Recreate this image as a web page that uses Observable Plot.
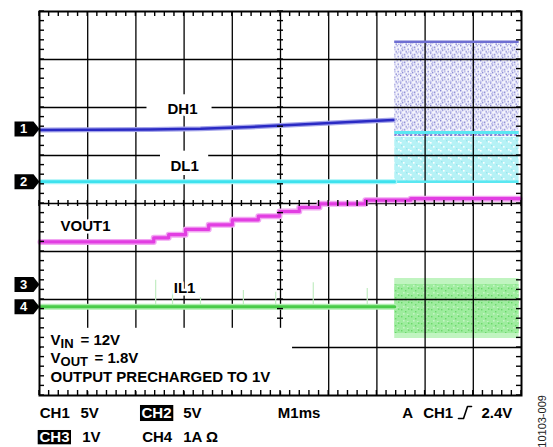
<!DOCTYPE html>
<html>
<head>
<meta charset="utf-8">
<script src="https://cdn.jsdelivr.net/npm/d3@7"></script>
<script src="https://cdn.jsdelivr.net/npm/@observablehq/plot@0.6"></script>
<style>
  html, body { margin: 0; padding: 0; background: #fff; }
</style>
</head>
<body>
<div id="chart"></div>
<script>
// ---- Channel setup (scope settings) ----
const channels = ["1", "2", "3", "4"];
const channelNames = ["DH1", "DL1", "VOUT1", "IL1"];
const channelGroundDiv = [1.55, 0.455, -1.69, -2.15];   // ground marker level, divisions
const channelPerDiv = [5, 5, 1, 1];                      // V/div, V/div, V/div, A/div

// ---- Grid (divisions) ----
const divX = [1, 2, 3, 4, 5, 6, 7, 8, 9];
const divY = [-3, -2, -1, 0, 1, 2, 3];
const minorX = d3.range(0, 10.001, 0.2);
const minorY = d3.range(-4, 4.001, 0.2);

// ---- Traces (time in ms, 1 ms/div) ----
const dh1T = [0.02, 2.30, 3.34, 4.38, 5.41, 6.45, 7.34];
const dh1V = [-0.10, -0.04, 0.03, 0.22, 0.48, 0.74, 0.95];

const dl1T = [0.02, 7.37];
const dl1V = [0, 0];

const vout1T = [0.02, 2.37, 2.68, 3.03, 3.51, 4.00, 4.54, 4.98, 5.39, 5.81, 6.76, 7.70, 9.96];
const vout1V = [0.89, 0.975, 1.04, 1.15, 1.245, 1.35, 1.425, 1.523, 1.607, 1.684, 1.76, 1.79, 1.79];

const il1T = [0.02, 7.37];
const il1A = [0, 0];
const il1SpikeT = [2.41, 2.76, 3.34, 4.23, 4.90, 5.68, 6.80];
const il1SpikeA = [0.55, 0.34, 0.19, 0.34, 0.30, 0.50, 0.38];

// ---- Switching region ----
const swT = [7.37, 9.95];
const dh1SwV = [-0.77, 9.1];        // low, high
const dl1SwV = [0, 5.12];
const il1SwOuterA = [-0.66, 0.59];
const il1SwInnerA = [-0.56, 0.46];

// ---- Text ----
const bottomRow1 = [
  {t: 0.006, s: "CH1"}, {t: 0.85, s: "5V"}, {t: 2.98, s: "5V"},
  {t: 4.944, s: "M1ms"}, {t: 7.525, s: "A"}, {t: 7.96, s: "CH1"}, {t: 9.17, s: "2.4V"}
];
const bottomRow2 = [
  {t: 0.886, s: "1V"}, {t: 2.13, s: "CH4"}, {t: 2.98, s: "1A Ω"}
];
const invertedLabels = [
  {s: "CH2", t: 2.116, d: -4.375, box: [2.095, 2.786, -4.208, -4.542]},
  {s: "CH3", t: 0.0, d: -4.875, box: [-0.027, 0.664, -4.729, -5.027]}
];
const traceLabels = [
  {s: "DH1", t: 2.967, d: 1.965},
  {s: "DL1", t: 3.01, d: 0.77},
  {s: "VOUT1", t: 0.954, d: -0.465},
  {s: "IL1", t: 3.01, d: -1.76}
];
const gapBoxes = [
  [2.23, 3.58, 1.833, 2.265],
  [2.51, 3.51, 0.583, 1.09],
  [0.04, 5.25, -3.92, -2.6]
];
const triggerGlyph = [[8.693, -4.479], [8.797, -4.479], [8.880, -4.229], [8.963, -4.229]];

const toDiv = (ch, v) => channelGroundDiv[ch] + v / channelPerDiv[ch];
const idx = arr => arr.map((_, i) => i);
const FONT = "Liberation Sans, Arial, Helvetica, sans-serif";
const GRID = "#000";
const TW = 1.4; // tick stroke width

const markerSymbol = {
  draw(ctx) {
    ctx.moveTo(-13, -7.5);
    ctx.lineTo(6, -7.5);
    ctx.lineTo(12, 0);
    ctx.lineTo(6, 7.5);
    ctx.lineTo(-13, 7.5);
    ctx.closePath();
  }
};

const chart = Plot.plot({
  width: 553,
  height: 447,
  marginLeft: 39,
  marginRight: 32,
  marginTop: 11,
  marginBottom: 52,
  x: {domain: [0, 10], axis: null},
  y: {domain: [-4, 4], axis: null},
  style: {fontFamily: FONT, background: "#fff", overflow: "visible"},
  marks: [
    // switching bands
    Plot.areaY(swT, {x: d => d, y1: toDiv(0, dh1SwV[0]), y2: toDiv(0, dh1SwV[1]), fill: "url(#dh1Speckle)"}),
    Plot.areaY(swT, {x: d => d, y1: toDiv(1, dl1SwV[0]), y2: toDiv(1, dl1SwV[1]) - 0.1, fill: "url(#dl1Speckle)"}),
    Plot.areaY(swT, {x: d => d, y1: toDiv(3, il1SwOuterA[0]), y2: toDiv(3, il1SwOuterA[1]), fill: "#c0f4c0"}),
    Plot.areaY(swT, {x: d => d, y1: toDiv(3, il1SwInnerA[0]), y2: toDiv(3, il1SwInnerA[1]), fill: "url(#il1Speckle)"}),

    // grid
    Plot.ruleX(divX, {x: d => d, stroke: GRID, strokeWidth: 1.3}),
    Plot.ruleY(divY, {y: d => d, stroke: GRID, strokeWidth: 1.3}),
    // blank areas behind labels
    Plot.rect(gapBoxes, {x1: d => d[0], x2: d => d[1], y1: d => d[2], y2: d => d[3], fill: "#fff"}),

    // switching level lines
    Plot.ruleY([toDiv(0, dh1SwV[1])], {x1: swT[0], x2: swT[1], y: d => d, stroke: "#6e6ed2", strokeWidth: 2.5}),
    Plot.ruleY([toDiv(0, dh1SwV[0]) + 0.03], {x1: swT[0], x2: swT[1], y: d => d, stroke: "#6a6ad0", strokeWidth: 1.5, strokeDasharray: "2,2"}),
    Plot.ruleY([toDiv(1, dl1SwV[1])], {x1: swT[0], x2: swT[1], y: d => d, stroke: "#5ae8f2", strokeWidth: 3}),
    Plot.ruleY([toDiv(1, dl1SwV[0])], {x1: swT[0], x2: swT[1], y: d => d, stroke: "#5ae8f2", strokeWidth: 2.5}),

    // IL1 faint spikes
    Plot.ruleX(idx(il1SpikeT), {x: i => il1SpikeT[i], y1: toDiv(3, 0), y2: i => toDiv(3, il1SpikeA[i]), stroke: "#c2ecc2", strokeWidth: 1.2}),
    // IL1
    Plot.line(idx(il1T), {x: i => il1T[i], y: i => toDiv(3, il1A[i]), stroke: "#b0eeb0", strokeWidth: 6}),
    Plot.line(idx(il1T), {x: i => il1T[i], y: i => toDiv(3, il1A[i]), stroke: "#48cc48", strokeWidth: 3}),
    // DL1
    Plot.line(idx(dl1T), {x: i => dl1T[i], y: i => toDiv(1, dl1V[i]), stroke: "#a8f4f8", strokeWidth: 5}),
    Plot.line(idx(dl1T), {x: i => dl1T[i], y: i => toDiv(1, dl1V[i]), stroke: "#3ee2ee", strokeWidth: 2.6}),
    // DH1
    Plot.line(idx(dh1T), {x: i => dh1T[i], y: i => toDiv(0, dh1V[i]), stroke: "#a4a4ea", strokeWidth: 5}),
    Plot.line(idx(dh1T), {x: i => dh1T[i], y: i => toDiv(0, dh1V[i]), stroke: "#2a2ac4", strokeWidth: 2.6}),
    // VOUT1
    Plot.line(idx(vout1T), {x: i => vout1T[i], y: i => toDiv(2, vout1V[i]), curve: "step-after", stroke: "#f2a6f2", strokeWidth: 6}),
    Plot.line(idx(vout1T), {x: i => vout1T[i], y: i => toDiv(2, vout1V[i]), curve: "step-after", stroke: "#e23ee2", strokeWidth: 3.2}),

    // frame
    Plot.frame({stroke: "#000", strokeWidth: 2}),

    // trace labels
    Plot.text(traceLabels, {x: "t", y: "d", text: "s", fontSize: 15, fontWeight: "bold", fill: "#000",
      stroke: "#fff", strokeWidth: 5, paintOrder: "stroke"}),

    // text box
    Plot.text(["V"], {x: () => 0.228, y: () => -2.844, text: d => d, textAnchor: "start", fontSize: 15, fontWeight: "bold"}),
    Plot.text(["IN"], {x: () => 0.436, y: () => -2.925, text: d => d, textAnchor: "start", fontSize: 13, fontWeight: "bold"}),
    Plot.text(["= 12V"], {x: () => 0.85, y: () => -2.844, text: d => d, textAnchor: "start", fontSize: 15, fontWeight: "bold"}),
    Plot.text(["V"], {x: () => 0.228, y: () => -3.229, text: d => d, textAnchor: "start", fontSize: 15, fontWeight: "bold"}),
    Plot.text(["OUT"], {x: () => 0.436, y: () => -3.30, text: d => d, textAnchor: "start", fontSize: 13, fontWeight: "bold"}),
    Plot.text(["= 1.8V"], {x: () => 1.141, y: () => -3.229, text: d => d, textAnchor: "start", fontSize: 15, fontWeight: "bold"}),
    Plot.text(["OUTPUT PRECHARGED TO 1V"], {x: () => 0.228, y: () => -3.625, text: d => d, textAnchor: "start", fontSize: 15, fontWeight: "bold"}),

    // channel markers
    Plot.dot(channels, {x: () => 0, y: (c, i) => channelGroundDiv[i], symbol: markerSymbol, r: 5, fill: "#000", stroke: null, dx: -12}),
    Plot.text(channels, {x: () => 0, y: (c, i) => channelGroundDiv[i], text: d => d, dx: -16, fill: "#fff", fontSize: 13, fontWeight: "bold"}),

    // bottom settings
    Plot.text(bottomRow1, {x: "t", y: () => -4.375, text: "s", textAnchor: "start", fontSize: 15, fontWeight: "bold"}),
    Plot.text(bottomRow2, {x: "t", y: () => -4.875, text: "s", textAnchor: "start", fontSize: 15, fontWeight: "bold"}),
    Plot.rect(invertedLabels, {x1: d => d.box[0], x2: d => d.box[1], y1: d => d.box[2], y2: d => d.box[3], fill: "#000"}),
    Plot.text(invertedLabels, {x: "t", y: "d", text: "s", textAnchor: "start", fontSize: 15, fontWeight: "bold", fill: "#fff"}),
    Plot.line(triggerGlyph, {x: d => d[0], y: d => d[1], stroke: "#000", strokeWidth: 1.6}),

    // figure id
    Plot.text(["10103-009"], {x: () => 10.425, y: () => -4.54, text: d => d, rotate: -90, fontSize: 11, fill: "#222"})
  ]
});

// ---- graticule minor ticks, positioned through Plot's own x / y scales ----
const sx = chart.scale("x"), sy = chart.scale("y");
const X = v => sx.apply(v), Y = v => sy.apply(v);
const x0 = X(0), x10 = X(10), xc = X(5), yTop = Y(4), yBot = Y(-4), yc = Y(0);
const boxTop = Y(-2.6), boxRight = X(5.25);
const tickG = d3.select(chart).append("g").attr("stroke", GRID).attr("stroke-width", TW);
const seg = (a, b, c, d) => tickG.append("line").attr("x1", a).attr("y1", b).attr("x2", c).attr("y2", d);
for (const v of minorY) {
  const y = Y(v);
  seg(x0, y, x0 + 5, y);                 // left edge
  seg(x10 - 5, y, x10, y);               // right edge
  if (y < boxTop - 1) seg(xc - 3, y, xc + 3, y);   // centre vertical line
}
for (const v of minorX) {
  const x = X(v);
  seg(x, yTop, x, yTop + 5);             // top edge
  seg(x, yBot - 5, x, yBot);             // bottom edge
  seg(x, yc - 3, x, yc + 3);             // centre horizontal line
}

// speckle textures for the switching bands
const defs = d3.select(chart).insert("defs", ":first-child");
function speckle(id, bg, dark, light, darkPts, lightPts, w, h) {
  const p = defs.append("pattern").attr("id", id).attr("patternUnits", "userSpaceOnUse")
    .attr("width", w).attr("height", h);
  p.append("rect").attr("width", w).attr("height", h).attr("fill", bg);
  for (const [x, y] of lightPts) p.append("rect").attr("x", x).attr("y", y).attr("width", 1.6).attr("height", 1.6).attr("fill", light);
  for (const [x, y] of darkPts) p.append("rect").attr("x", x).attr("y", y).attr("width", 1.4).attr("height", 1.4).attr("fill", dark);
}
speckle("dh1Speckle", "#f4f4fc", "#8484d4", "#b8b8e8",
  [[0, 0], [4, 1.5], [7.5, 3.5], [2, 4.5], [5.5, 6]],
  [[2, 1.5], [6.5, 0], [0, 5.5], [4, 3.5], [8, 6.2], [1, 2.8]], 10, 7.5);
speckle("dl1Speckle", "#b6f2f6", "#9ae6ee", "#ffffff",
  [[1, 1], [6, 4]],
  [[3, 2], [8, 5], [0, 6]], 10, 8);
speckle("il1Speckle", "#9eec9e", "#6ad86a", "#c4f4c4",
  [[1, 1], [5, 3], [8, 0.5]],
  [[3, 5], [7, 6]], 10, 7);

document.getElementById("chart").appendChild(chart);
</script>
</body>
</html>
